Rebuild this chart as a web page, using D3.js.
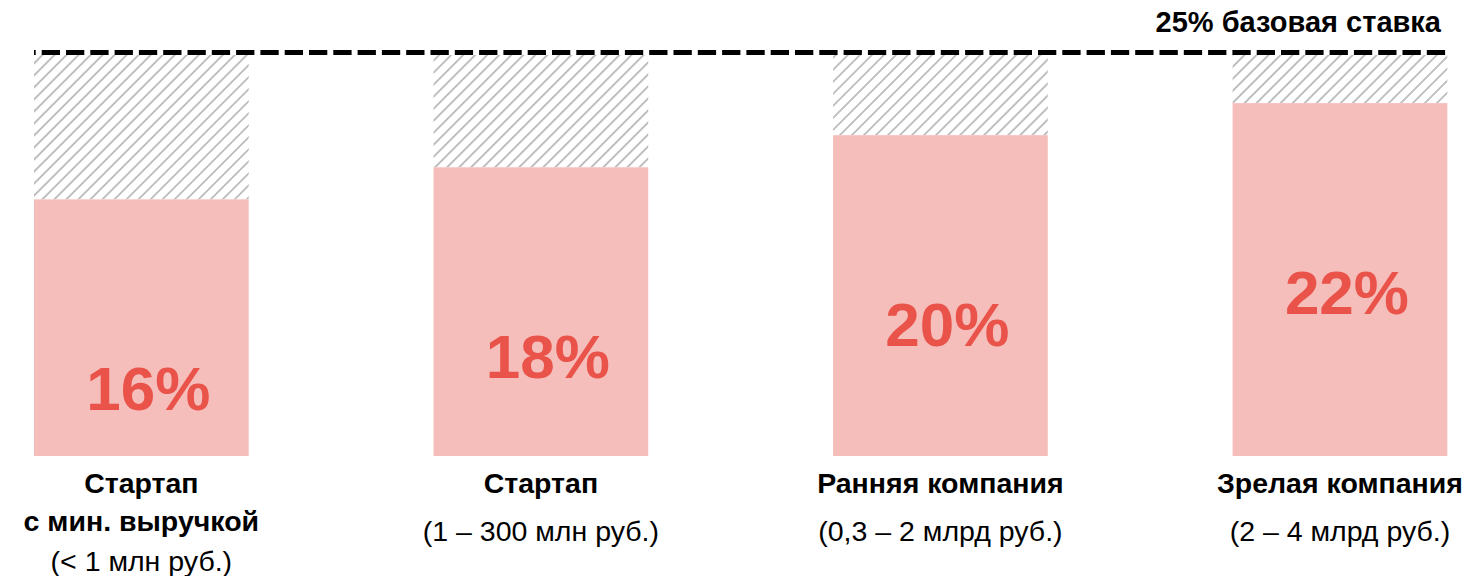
<!DOCTYPE html>
<html>
<head>
<meta charset="utf-8">
<script src="https://cdn.jsdelivr.net/npm/d3@7"></script>
<style>
  body { margin: 0; background: #fff; }
  text { font-family: "Liberation Sans", Arial, sans-serif; }
</style>
</head>
<body>
<div id="chart"></div>
<script>
// data
var categories = ["start_min", "start", "early", "mature"];
var rates = [16, 18, 20, 22];
var baseRate = 25;
var baseLabel = "25% базовая ставка";
var titleLines = [["Стартап", "с мин. выручкой"], ["Стартап"], ["Ранняя компания"], ["Зрелая компания"]];
var subLines = ["(< 1 млн руб.)", "(1 – 300 млн руб.)", "(0,3 – 2 млрд руб.)", "(2 – 4 млрд руб.)"];

var width = 1477, height = 576;
var pink = "#f5bebb", red = "#e9534a";

var svg = d3.select("#chart").append("svg")
    .attr("width", width)
    .attr("height", height);

// hatch pattern
var pat = svg.append("defs").append("pattern")
    .attr("id", "hatch")
    .attr("patternUnits", "userSpaceOnUse")
    .attr("width", 8.5)
    .attr("height", 8.5)
    .attr("patternTransform", "rotate(45)");
pat.append("line")
    .attr("x1", 0).attr("y1", 0)
    .attr("x2", 0).attr("y2", 8.5)
    .attr("stroke", "#bababa")
    .attr("stroke-width", 3.6);

var x = d3.scaleBand()
    .domain(categories)
    .range([34, 1447.3])
    .paddingInner(0.4626)
    .paddingOuter(0);

var y = d3.scaleLinear()
    .domain([0, baseRate])
    .range([456, 55]);

var bars = svg.selectAll(".bar")
    .data(categories)
  .enter().append("g")
    .attr("class", "bar");

// hatched gap up to base rate
bars.append("rect")
    .attr("x", function(d) { return x(d); })
    .attr("y", y(baseRate))
    .attr("width", x.bandwidth())
    .attr("height", function(d, i) { return y(rates[i]) - y(baseRate); })
    .attr("fill", "url(#hatch)");

bars.append("rect")
    .attr("x", function(d) { return x(d); })
    .attr("y", function(d, i) { return y(rates[i]); })
    .attr("width", x.bandwidth())
    .attr("height", function(d, i) { return y(0) - y(rates[i]); })
    .attr("fill", pink);

bars.append("text")
    .attr("x", function(d) { return x(d) + x.bandwidth() / 2 + 7; })
    .attr("y", function(d, i) { return y(rates[i]) + 210.5; })
    .attr("text-anchor", "middle")
    .attr("font-size", 62)
    .attr("font-weight", "bold")
    .attr("fill", red)
    .text(function(d, i) { return rates[i] + "%"; });

// category labels
bars.each(function(d, i) {
  var g = d3.select(this);
  var cx = x(d) + x.bandwidth() / 2;
  var lines = titleLines[i];
  lines.forEach(function(t, j) {
    g.append("text")
      .attr("x", cx)
      .attr("y", 493 + j * 38)
      .attr("text-anchor", "middle")
      .attr("font-size", 28.5)
      .attr("font-weight", "bold")
      .attr("fill", "#000")
      .text(t);
  });
  g.append("text")
    .attr("x", cx)
    .attr("y", 493 + (lines.length - 1) * 38 + (lines.length > 1 ? 40 : 48))
    .attr("text-anchor", "middle")
    .attr("font-size", 28.5)
    .attr("fill", "#000")
    .text(subLines[i]);
});

// base rate line
var x0 = x(categories[0]), x1 = x(categories[categories.length - 1]) + x.bandwidth() + 3;
svg.append("line")
    .attr("x1", x0)
    .attr("x2", x1)
    .attr("y1", y(baseRate) - 2.5)
    .attr("y2", y(baseRate) - 2.5)
    .attr("stroke", "#000")
    .attr("stroke-width", 5)
    .attr("stroke-dasharray", "18.3 6")
    .attr("stroke-dashoffset", 16.6);

svg.append("text")
    .attr("x", 1441)
    .attr("y", 32)
    .attr("text-anchor", "end")
    .attr("font-size", 29)
    .attr("font-weight", "bold")
    .attr("fill", "#000")
    .text(baseLabel);
</script>
</body>
</html>
